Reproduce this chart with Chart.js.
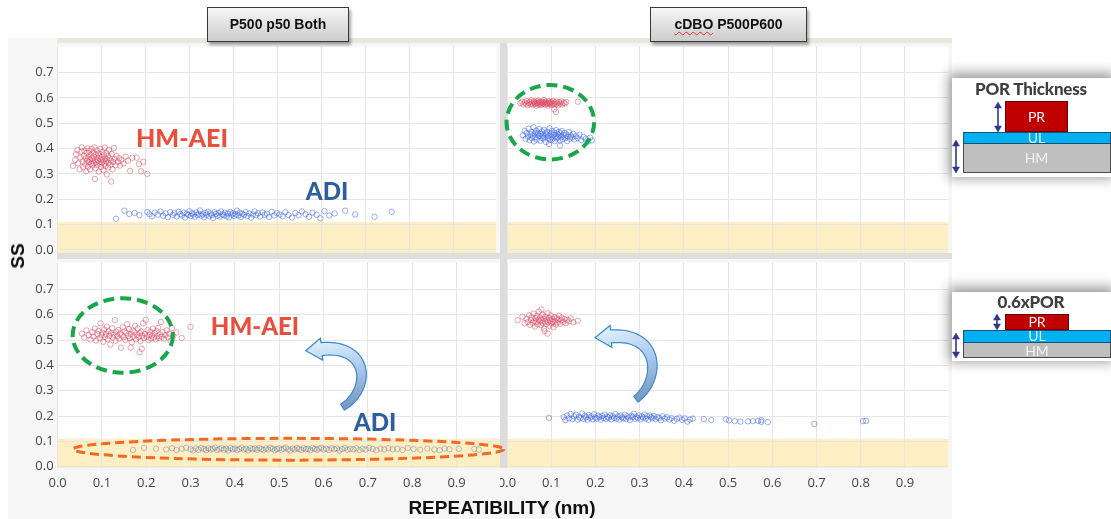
<!DOCTYPE html>
<html lang="en">
<head>
<meta charset="UTF-8">
<title>SS vs REPEATIBILITY</title>
<script src="https://cdn.jsdelivr.net/npm/chart.js"></script>
<style>
  body { margin: 0; background: #fff; width: 1111px; height: 519px; overflow: hidden; }
  .figura { position: relative; width: 1111px; height: 519px; }
  .figura > * { position: absolute; }
  .cabecalho {
    height: 35px; box-sizing: border-box; border: 1px solid #3a3a3a;
    background: linear-gradient(#f6f6f6, #cccccc);
    box-shadow: 2px 3px 3px rgba(0,0,0,0.35);
    font: bold 14px "Liberation Sans", sans-serif; color: #111;
    text-align: center; line-height: 33px;
  }
  .anot { font-family: Lato, sans-serif; font-weight: 900; line-height: 1; transform: translate(-50%, -50%); white-space: nowrap; }
  .vermelho { color: #e9503b; }
  .azul { color: #2d5f9f; }
  .eixo { font: bold 19px "Liberation Sans", sans-serif; color: #111; transform: translate(-50%, -50%); white-space: nowrap; }
  .esquema { background: #fff; width: 160px; box-shadow: 0 -2px 12px 3px rgba(0,0,0,0.4); }
  .esquema > * { position: absolute; }
  .esq-titulo { left: 0; width: 158px; text-align: center; font: 900 17px Lato, sans-serif; color: #3f3f3f; line-height: 17px; letter-spacing: -0.2px; }
  .camada { font: 14px Lato, sans-serif; text-align: center; box-sizing: border-box; }
  .pr { background: #c00000; border: 1px solid #6d0000; color: #fff; }
  .ul { background: #00b0f0; border: 1px solid #1d4f73; width: 148px; }
  .hm { background: #bfbfbf; border: 1px solid #4a4a4a; width: 148px; }
</style>
</head>
<body>
<div class="figura">
  <div style="left:8px;top:38px;width:944px;height:481px;background:#f6f6f6"></div>
  <div style="left:57px;top:38px;width:895px;height:5px;background:#e8e8e0"></div>
  <div style="left:500px;top:43px;width:7px;height:425px;background:#dcdcdc"></div>
  <div style="left:57px;top:253px;width:895px;height:6px;background:#dedede"></div>

  <canvas id="cTL" width="492" height="216" style="left:8px;top:43px"></canvas>
  <canvas id="cTR" width="452" height="216" style="left:500px;top:43px"></canvas>
  <canvas id="cBL" width="499" height="260" style="left:8px;top:259px"></canvas>
  <canvas id="cBR" width="452" height="260" style="left:500px;top:259px"></canvas>

  <div class="cabecalho" style="left:207px;top:7px;width:142px">P500 p50 Both</div>
  <div class="cabecalho" style="left:650px;top:7px;width:157px"><span style="text-decoration:underline wavy #e03030;text-decoration-thickness:1px;text-underline-offset:2px">cDBO</span> P500P600</div>

  <div class="anot vermelho" style="left:182px;top:137px;font-size:25px">HM-AEI</div>
  <div class="anot azul" style="left:327px;top:191px;font-size:24px">ADI</div>
  <div class="anot vermelho" style="left:255px;top:326px;font-size:24px">HM-AEI</div>
  <div class="anot azul" style="left:375px;top:422px;font-size:24px">ADI</div>

  <div class="eixo" style="left:502px;top:508px">REPEATIBILITY (nm)</div>
  <div class="eixo" style="left:18px;top:256px;transform:translate(-50%,-50%) rotate(-90deg)">SS</div>

  <div class="esquema" style="left:952px;top:78px;height:99px">
    <div class="esq-titulo" style="top:2px">POR Thickness</div>
    <div class="camada pr" style="left:53px;top:23px;width:63px;height:31px;line-height:29px">PR</div>
    <div class="camada hm" style="left:11px;top:65px;height:30px"></div>
    <div class="camada ul" style="left:11px;top:54px;height:12px"></div>
    <div class="camada" style="left:53px;top:53px;width:63px;line-height:14px;color:#dcf3ff">UL</div>
    <div class="camada" style="left:53px;top:72px;width:63px;line-height:16px;color:#f2f2f2">HM</div>
    <svg width="50" height="99" style="left:0;top:0">
      <g fill="#2f3590" stroke="#2f3590" stroke-width="1.6">
        <line x1="46" y1="29" x2="46" y2="49"/>
        <polygon points="46,24 42.5,30 49.5,30" stroke-width="0.5"/>
        <polygon points="46,54 42.5,48 49.5,48" stroke-width="0.5"/>
        <line x1="4" y1="67" x2="4" y2="90"/>
        <polygon points="4,62 0.5,68 7.5,68" stroke-width="0.5"/>
        <polygon points="4,95 0.5,89 7.5,89" stroke-width="0.5"/>
      </g>
    </svg>
  </div>

  <div class="esquema" style="left:952px;top:292px;height:69px">
    <div class="esq-titulo" style="top:1px">0.6xPOR</div>
    <div class="camada pr" style="left:53px;top:22px;width:64px;height:16px;line-height:14px">PR</div>
    <div class="camada hm" style="left:11px;top:50px;height:16px"></div>
    <div class="camada ul" style="left:11px;top:38px;height:13px"></div>
    <div class="camada" style="left:53px;top:37px;width:64px;line-height:14px;color:#dcf3ff">UL</div>
    <div class="camada" style="left:53px;top:51px;width:64px;line-height:15px;color:#f2f2f2">HM</div>
    <svg width="50" height="69" style="left:0;top:0">
      <g fill="#2f3590" stroke="#2f3590" stroke-width="1.6">
        <line x1="45" y1="26" x2="45" y2="34"/>
        <polygon points="45,22 41.5,28 48.5,28" stroke-width="0.5"/>
        <polygon points="45,38 41.5,32 48.5,32" stroke-width="0.5"/>
        <line x1="4" y1="45" x2="4" y2="62"/>
        <polygon points="4,41 0.5,47 7.5,47" stroke-width="0.5"/>
        <polygon points="4,66 0.5,60 7.5,60" stroke-width="0.5"/>
      </g>
    </svg>
  </div>
</div>

<script>
// eixos
var ssTicks = [0, 0.1, 0.2, 0.3, 0.4, 0.5, 0.6, 0.7];
var repTicks = [0, 0.1, 0.2, 0.3, 0.4, 0.5, 0.6, 0.7, 0.8, 0.9];
var faixaSS = [0, 0.11];

// P500 p50 Both - POR
var tlVermelho = [[0.035,0.332],[0.040,0.355],[0.042,0.378],[0.045,0.395],[0.047,0.342],[0.050,0.318],[0.052,0.365],[0.054,0.388],[0.055,0.405],[0.057,0.349],[0.058,0.327],[0.060,0.372],[0.061,0.392],[0.063,0.338],[0.064,0.361],[0.065,0.310],[0.066,0.384],[0.067,0.352],[0.068,0.401],[0.069,0.329],[0.070,0.367],[0.071,0.346],[0.072,0.390],[0.073,0.357],[0.074,0.318],[0.075,0.375],[0.076,0.340],[0.077,0.398],[0.078,0.362],[0.079,0.333],[0.080,0.350],[0.081,0.385],[0.082,0.369],[0.083,0.342],[0.084,0.405],[0.085,0.280],[0.085,0.356],[0.086,0.322],[0.087,0.378],[0.088,0.347],[0.089,0.393],[0.090,0.335],[0.091,0.364],[0.092,0.352],[0.093,0.381],[0.094,0.309],[0.095,0.372],[0.096,0.341],[0.097,0.399],[0.098,0.358],[0.099,0.328],[0.100,0.366],[0.101,0.345],[0.102,0.387],[0.103,0.353],[0.104,0.315],[0.105,0.376],[0.106,0.339],[0.107,0.404],[0.108,0.361],[0.109,0.331],[0.110,0.349],[0.111,0.383],[0.112,0.298],[0.113,0.357],[0.114,0.370],[0.115,0.325],[0.116,0.344],[0.117,0.395],[0.118,0.362],[0.120,0.336],[0.121,0.352],[0.122,0.270],[0.123,0.379],[0.125,0.318],[0.126,0.347],[0.128,0.402],[0.130,0.359],[0.132,0.334],[0.134,0.371],[0.137,0.348],[0.140,0.362],[0.142,0.333],[0.145,0.355],[0.150,0.341],[0.155,0.368],[0.160,0.352],[0.165,0.312],[0.170,0.364],[0.180,0.364],[0.185,0.339],[0.190,0.310],[0.195,0.348],[0.204,0.300]];
var tlAzul = [[0.133,0.123],[0.152,0.155],[0.163,0.142],[0.175,0.146],[0.186,0.137],[0.204,0.150],[0.209,0.141],[0.215,0.133],[0.221,0.147],[0.228,0.139],[0.234,0.152],[0.240,0.135],[0.246,0.144],[0.251,0.129],[0.256,0.149],[0.262,0.138],[0.266,0.145],[0.271,0.132],[0.275,0.151],[0.279,0.141],[0.283,0.136],[0.287,0.147],[0.290,0.128],[0.294,0.143],[0.297,0.138],[0.300,0.153],[0.303,0.134],[0.306,0.145],[0.309,0.140],[0.312,0.131],[0.315,0.148],[0.318,0.137],[0.321,0.143],[0.324,0.156],[0.327,0.135],[0.330,0.141],[0.333,0.129],[0.336,0.146],[0.339,0.139],[0.342,0.151],[0.345,0.133],[0.348,0.144],[0.351,0.138],[0.354,0.127],[0.357,0.149],[0.360,0.142],[0.363,0.135],[0.366,0.146],[0.369,0.131],[0.372,0.152],[0.375,0.140],[0.378,0.137],[0.381,0.147],[0.384,0.133],[0.387,0.143],[0.390,0.128],[0.393,0.150],[0.396,0.139],[0.399,0.145],[0.402,0.134],[0.405,0.141],[0.408,0.155],[0.411,0.136],[0.414,0.147],[0.417,0.130],[0.420,0.143],[0.424,0.138],[0.428,0.149],[0.432,0.134],[0.436,0.144],[0.440,0.127],[0.444,0.140],[0.448,0.152],[0.452,0.137],[0.456,0.145],[0.461,0.132],[0.466,0.148],[0.471,0.139],[0.476,0.143],[0.481,0.130],[0.487,0.151],[0.493,0.136],[0.499,0.145],[0.505,0.140],[0.512,0.133],[0.518,0.149],[0.525,0.138],[0.533,0.128],[0.541,0.146],[0.548,0.137],[0.556,0.152],[0.564,0.141],[0.572,0.131],[0.580,0.147],[0.589,0.139],[0.598,0.125],[0.607,0.153],[0.618,0.136],[0.630,0.144],[0.654,0.155],[0.677,0.140],[0.721,0.131],[0.760,0.151]];

// cDBO P500P600 - POR
var trVermelho = [[0.030,0.579],[0.034,0.585],[0.037,0.574],[0.040,0.582],[0.043,0.577],[0.045,0.588],[0.047,0.571],[0.049,0.580],[0.051,0.584],[0.053,0.575],[0.055,0.590],[0.057,0.578],[0.058,0.572],[0.060,0.583],[0.061,0.587],[0.063,0.576],[0.064,0.581],[0.066,0.569],[0.067,0.586],[0.068,0.579],[0.070,0.574],[0.071,0.589],[0.072,0.582],[0.074,0.577],[0.075,0.584],[0.076,0.571],[0.078,0.580],[0.079,0.586],[0.080,0.575],[0.082,0.583],[0.083,0.578],[0.084,0.591],[0.086,0.573],[0.087,0.581],[0.088,0.585],[0.090,0.576],[0.091,0.579],[0.093,0.570],[0.094,0.587],[0.095,0.582],[0.097,0.575],[0.098,0.580],[0.100,0.584],[0.101,0.572],[0.103,0.578],[0.104,0.588],[0.106,0.576],[0.107,0.555],[0.108,0.582],[0.110,0.574],[0.111,0.545],[0.112,0.585],[0.114,0.579],[0.116,0.571],[0.118,0.583],[0.120,0.577],[0.123,0.586],[0.125,0.574],[0.128,0.581],[0.131,0.578],[0.134,0.584],[0.160,0.585]];
var trAzul = [[0.036,0.452],[0.040,0.470],[0.042,0.438],[0.045,0.461],[0.047,0.447],[0.049,0.478],[0.051,0.433],[0.053,0.456],[0.055,0.466],[0.056,0.441],[0.058,0.452],[0.060,0.484],[0.061,0.428],[0.063,0.460],[0.064,0.445],[0.066,0.471],[0.067,0.436],[0.069,0.455],[0.070,0.463],[0.072,0.449],[0.073,0.477],[0.075,0.431],[0.076,0.458],[0.078,0.443],[0.079,0.468],[0.081,0.452],[0.082,0.439],[0.084,0.474],[0.085,0.447],[0.087,0.461],[0.088,0.426],[0.090,0.455],[0.091,0.467],[0.093,0.441],[0.094,0.450],[0.096,0.480],[0.097,0.434],[0.099,0.459],[0.100,0.446],[0.102,0.470],[0.103,0.438],[0.105,0.454],[0.106,0.463],[0.108,0.429],[0.109,0.448],[0.111,0.473],[0.112,0.440],[0.114,0.457],[0.115,0.444],[0.117,0.466],[0.118,0.451],[0.120,0.432],[0.121,0.460],[0.123,0.445],[0.124,0.469],[0.126,0.437],[0.128,0.453],[0.130,0.462],[0.132,0.442],[0.134,0.456],[0.136,0.430],[0.138,0.448],[0.140,0.465],[0.142,0.439],[0.144,0.452],[0.147,0.444],[0.150,0.458],[0.153,0.436],[0.156,0.449],[0.160,0.441],[0.164,0.455],[0.168,0.433],[0.173,0.446],[0.178,0.439],[0.183,0.428],[0.188,0.443],[0.192,0.432],[0.120,0.412],[0.095,0.418]];

// P500 p50 Both - 0.6xPOR
var blVermelho = [[0.055,0.525],[0.060,0.510],[0.065,0.538],[0.070,0.519],[0.074,0.502],[0.078,0.531],[0.081,0.514],[0.084,0.545],[0.087,0.498],[0.090,0.523],[0.092,0.536],[0.095,0.507],[0.097,0.566],[0.099,0.518],[0.101,0.529],[0.103,0.493],[0.105,0.541],[0.107,0.512],[0.109,0.524],[0.111,0.553],[0.113,0.503],[0.115,0.534],[0.117,0.517],[0.119,0.482],[0.121,0.527],[0.123,0.546],[0.125,0.509],[0.127,0.521],[0.129,0.579],[0.131,0.497],[0.133,0.532],[0.135,0.515],[0.137,0.540],[0.139,0.505],[0.141,0.526],[0.143,0.470],[0.145,0.519],[0.147,0.550],[0.149,0.511],[0.151,0.535],[0.153,0.500],[0.155,0.528],[0.157,0.562],[0.159,0.516],[0.161,0.543],[0.163,0.507],[0.165,0.523],[0.167,0.491],[0.169,0.537],[0.171,0.514],[0.173,0.530],[0.175,0.556],[0.177,0.502],[0.179,0.520],[0.181,0.545],[0.183,0.511],[0.185,0.527],[0.187,0.496],[0.189,0.533],[0.191,0.517],[0.193,0.566],[0.195,0.508],[0.197,0.524],[0.199,0.580],[0.201,0.512],[0.203,0.539],[0.205,0.499],[0.207,0.521],[0.209,0.532],[0.211,0.506],[0.213,0.518],[0.215,0.545],[0.217,0.510],[0.219,0.527],[0.221,0.503],[0.223,0.536],[0.225,0.515],[0.227,0.548],[0.229,0.508],[0.231,0.522],[0.233,0.571],[0.235,0.513],[0.237,0.531],[0.240,0.505],[0.243,0.519],[0.246,0.538],[0.249,0.511],[0.252,0.525],[0.255,0.497],[0.258,0.547],[0.261,0.516],[0.268,0.530],[0.280,0.508],[0.300,0.552],[0.185,0.452],[0.190,0.465],[0.165,0.470]];
var blAzul = [[0.170,0.066],[0.195,0.074],[0.222,0.071],[0.245,0.068],[0.258,0.073],[0.268,0.066],[0.280,0.071],[0.290,0.075],[0.300,0.069],[0.306,0.064],[0.312,0.072],[0.318,0.067],[0.324,0.074],[0.330,0.070],[0.335,0.065],[0.340,0.073],[0.345,0.068],[0.350,0.071],[0.355,0.076],[0.360,0.066],[0.365,0.070],[0.370,0.073],[0.375,0.067],[0.380,0.071],[0.385,0.064],[0.390,0.074],[0.395,0.069],[0.400,0.072],[0.405,0.066],[0.410,0.070],[0.415,0.075],[0.420,0.068],[0.425,0.071],[0.430,0.065],[0.435,0.073],[0.440,0.069],[0.445,0.072],[0.450,0.067],[0.455,0.074],[0.460,0.070],[0.465,0.066],[0.470,0.072],[0.475,0.068],[0.480,0.075],[0.485,0.071],[0.490,0.065],[0.495,0.070],[0.500,0.073],[0.505,0.067],[0.510,0.071],[0.515,0.076],[0.520,0.069],[0.525,0.064],[0.530,0.072],[0.535,0.068],[0.540,0.074],[0.545,0.070],[0.550,0.066],[0.555,0.073],[0.560,0.069],[0.565,0.071],[0.570,0.065],[0.575,0.074],[0.580,0.070],[0.585,0.067],[0.590,0.072],[0.595,0.075],[0.600,0.068],[0.606,0.071],[0.612,0.066],[0.618,0.073],[0.624,0.069],[0.630,0.072],[0.636,0.064],[0.642,0.070],[0.648,0.074],[0.654,0.067],[0.660,0.071],[0.667,0.069],[0.674,0.073],[0.681,0.066],[0.688,0.071],[0.695,0.068],[0.703,0.074],[0.711,0.070],[0.719,0.065],[0.728,0.072],[0.737,0.068],[0.746,0.073],[0.756,0.069],[0.766,0.071],[0.778,0.066],[0.790,0.074],[0.803,0.070],[0.818,0.067],[0.834,0.072],[0.850,0.068],[0.862,0.065],[0.873,0.072],[0.884,0.069],[0.905,0.071],[0.940,0.070],[0.950,0.068]];

// cDBO P500P600 - 0.6xPOR
var brVermelho = [[0.024,0.578],[0.035,0.592],[0.040,0.566],[0.044,0.584],[0.047,0.571],[0.050,0.598],[0.052,0.560],[0.054,0.580],[0.056,0.589],[0.058,0.568],[0.060,0.604],[0.062,0.575],[0.063,0.553],[0.065,0.586],[0.066,0.570],[0.068,0.595],[0.069,0.562],[0.071,0.580],[0.072,0.612],[0.074,0.573],[0.075,0.588],[0.077,0.558],[0.078,0.579],[0.080,0.600],[0.081,0.567],[0.083,0.584],[0.084,0.545],[0.086,0.574],[0.087,0.592],[0.089,0.563],[0.090,0.581],[0.092,0.606],[0.093,0.570],[0.095,0.587],[0.096,0.556],[0.098,0.577],[0.099,0.597],[0.101,0.565],[0.102,0.583],[0.104,0.572],[0.105,0.550],[0.107,0.590],[0.108,0.575],[0.110,0.561],[0.112,0.586],[0.114,0.569],[0.116,0.581],[0.118,0.596],[0.120,0.564],[0.122,0.578],[0.124,0.588],[0.127,0.571],[0.130,0.583],[0.133,0.566],[0.136,0.579],[0.140,0.574],[0.144,0.585],[0.150,0.570],[0.160,0.576],[0.092,0.525],[0.085,0.535],[0.078,0.620]];
var brAzul = [[0.095,0.193],[0.128,0.196],[0.132,0.184],[0.136,0.202],[0.140,0.191],[0.144,0.208],[0.148,0.188],[0.152,0.199],[0.156,0.205],[0.160,0.186],[0.163,0.197],[0.166,0.192],[0.170,0.210],[0.173,0.189],[0.176,0.201],[0.179,0.195],[0.182,0.185],[0.185,0.204],[0.188,0.193],[0.191,0.199],[0.194,0.187],[0.197,0.207],[0.200,0.194],[0.203,0.190],[0.206,0.202],[0.209,0.196],[0.212,0.185],[0.215,0.200],[0.218,0.192],[0.221,0.206],[0.224,0.189],[0.227,0.197],[0.230,0.194],[0.233,0.203],[0.236,0.187],[0.239,0.199],[0.242,0.193],[0.245,0.208],[0.248,0.190],[0.251,0.198],[0.254,0.186],[0.257,0.202],[0.260,0.195],[0.263,0.191],[0.266,0.205],[0.269,0.188],[0.272,0.199],[0.275,0.194],[0.278,0.184],[0.281,0.201],[0.284,0.196],[0.287,0.209],[0.290,0.189],[0.293,0.197],[0.296,0.192],[0.299,0.203],[0.302,0.187],[0.305,0.198],[0.308,0.194],[0.311,0.206],[0.314,0.190],[0.317,0.199],[0.320,0.185],[0.323,0.202],[0.326,0.195],[0.329,0.191],[0.332,0.200],[0.336,0.188],[0.340,0.196],[0.344,0.193],[0.348,0.183],[0.352,0.199],[0.357,0.190],[0.362,0.195],[0.367,0.186],[0.372,0.192],[0.378,0.181],[0.384,0.189],[0.390,0.194],[0.396,0.185],[0.402,0.191],[0.408,0.178],[0.414,0.186],[0.420,0.190],[0.445,0.188],[0.462,0.184],[0.495,0.187],[0.502,0.183],[0.515,0.180],[0.528,0.178],[0.545,0.179],[0.556,0.180],[0.568,0.181],[0.575,0.184],[0.575,0.177],[0.590,0.176],[0.695,0.169],[0.805,0.180],[0.812,0.181]];

var corVermelho = 'rgba(218, 70, 95, 0.5)';
var corAzul = 'rgba(52, 96, 230, 0.5)';
var corAziCinza = 'rgba(90, 105, 160, 0.4)';

var fonteTick = { family: '"Open Sans", sans-serif', size: 13 };

// fundo branco da area + faixa amarela
var fundo = {
  id: 'fundo',
  beforeDraw: function (chart) {
    var a = chart.chartArea, ctx = chart.ctx;
    var yt = chart.scales.y.getPixelForValue(faixaSS[1]);
    ctx.save();
    ctx.fillStyle = '#ffffff';
    ctx.fillRect(a.left, a.top, a.width, a.height);
    ctx.fillStyle = '#fdeec3';
    ctx.fillRect(a.left, yt, a.width, a.bottom - yt);
    ctx.restore();
  }
};

function desenharSeta(ctx, P, w0, w1, hw, hl) {
  function bez(t, k) { var u = 1 - t; return u*u*u*P[0][k] + 3*u*u*t*P[1][k] + 3*u*t*t*P[2][k] + t*t*t*P[3][k]; }
  function der(t, k) { var u = 1 - t; return 3*u*u*(P[1][k]-P[0][k]) + 6*u*t*(P[2][k]-P[1][k]) + 3*t*t*(P[3][k]-P[2][k]); }
  var esq = [], dir = [], n = 40, i;
  for (i = 0; i <= n; i++) {
    var t = i / n, x = bez(t, 0), y = bez(t, 1), dx = der(t, 0), dy = der(t, 1);
    var l = Math.hypot(dx, dy), nx = -dy / l, ny = dx / l, w = (w0 + (w1 - w0) * t) / 2;
    esq.push([x + nx * w, y + ny * w]);
    dir.push([x - nx * w, y - ny * w]);
  }
  var ex = der(1, 0), ey = der(1, 1), el = Math.hypot(ex, ey), ux = ex / el, uy = ey / el;
  var B = P[3];
  ctx.save();
  ctx.beginPath();
  esq.forEach(function (p, k) { if (k) ctx.lineTo(p[0], p[1]); else ctx.moveTo(p[0], p[1]); });
  ctx.lineTo(B[0] - uy * hw, B[1] + ux * hw);
  ctx.lineTo(B[0] + ux * hl, B[1] + uy * hl);
  ctx.lineTo(B[0] + uy * hw, B[1] - ux * hw);
  for (i = n; i >= 0; i--) ctx.lineTo(dir[i][0], dir[i][1]);
  ctx.closePath();
  var g = ctx.createLinearGradient(B[0], B[1] - 12, P[0][0] - 8, P[0][1]);
  g.addColorStop(0, '#e6f2fd');
  g.addColorStop(0.5, '#aacbee');
  g.addColorStop(1, '#7b9bc2');
  ctx.fillStyle = g;
  ctx.fill();
  ctx.strokeStyle = '#3b8ad0';
  ctx.lineWidth = 1.2;
  ctx.stroke();
  ctx.restore();
}

function decoracao(d) {
  return {
    id: 'deco',
    afterDraw: function (chart) {
      var ctx = chart.ctx, sx = chart.scales.x, sy = chart.scales.y;
      (d.elipses || []).forEach(function (e) {
        var cx = sx.getPixelForValue(e.cx), cy = sy.getPixelForValue(e.cy);
        var rx = Math.abs(sx.getPixelForValue(e.cx + e.rx) - cx);
        var ry = Math.abs(sy.getPixelForValue(e.cy + e.ry) - cy);
        ctx.save();
        ctx.beginPath();
        ctx.ellipse(cx, cy, rx, ry, 0, 0, 2 * Math.PI);
        ctx.setLineDash(e.traco);
        ctx.lineWidth = e.espessura;
        ctx.strokeStyle = e.cor;
        ctx.stroke();
        ctx.restore();
      });
      (d.setas || []).forEach(function (s) {
        var P = s.map(function (p) { return [sx.getPixelForValue(p[0]), sy.getPixelForValue(p[1])]; });
        desenharSeta(ctx, P, 7, 13, 11, 16);
      });
    }
  };
}

function criarPainel(id, conjuntos, cfg) {
  var ctx = document.getElementById(id).getContext('2d');
  return new Chart(ctx, {
    type: 'scatter',
    data: {
      datasets: conjuntos.map(function (c) {
        return {
          data: c.pontos.map(function (p) { return { x: p[0], y: p[1] }; }),
          borderColor: c.cor,
          backgroundColor: 'rgba(255,255,255,0)',
          pointRadius: 2.7,
          pointHoverRadius: 2.7,
          borderWidth: 1
        };
      })
    },
    options: {
      responsive: false,
      animation: false,
      events: [],
      layout: { padding: cfg.padding },
      plugins: { legend: { display: false }, tooltip: { enabled: false } },
      scales: {
        x: {
          type: 'linear', min: 0, max: 0.998,
          afterBuildTicks: function (s) { s.ticks = repTicks.map(function (v) { return { value: v }; }); },
          afterFit: function (s) { s.height = cfg.xAltura; s.paddingLeft = 0; s.paddingRight = 0; s.paddingTop = 0; s.paddingBottom = 0; },
          grid: { color: '#e6e6e6', drawTicks: false },
          border: { display: false },
          ticks: { display: cfg.xTicks, padding: 7, maxRotation: 0, autoSkip: false, font: fonteTick, color: '#454545',
                   callback: function (v) { return v.toFixed(1); } }
        },
        y: {
          type: 'linear', min: cfg.yMin, max: cfg.yMax,
          afterBuildTicks: function (s) { s.ticks = ssTicks.map(function (v) { return { value: v }; }); },
          afterFit: function (s) { s.width = cfg.yLargura; s.paddingLeft = 0; s.paddingRight = 0; s.paddingTop = 0; s.paddingBottom = 0; },
          grid: { color: '#e6e6e6', drawTicks: false },
          border: { display: false },
          ticks: { display: cfg.yTicks, padding: 4, font: fonteTick, color: '#454545',
                   callback: function (v) { return v.toFixed(1); } }
        }
      }
    },
    plugins: [fundo, decoracao(cfg.deco || {})]
  });
}

criarPainel('cTL', [{ pontos: tlVermelho, cor: corVermelho }, { pontos: tlAzul, cor: corAzul }], {
  padding: { top: 0, right: 0, bottom: 6, left: 0 }, xAltura: 0, yLargura: 49.6,
  xTicks: false, yTicks: true, yMin: -0.012, yMax: 0.802
});

criarPainel('cTR', [{ pontos: trVermelho, cor: corVermelho }, { pontos: trAzul, cor: corAzul }], {
  padding: { top: 0, right: 2, bottom: 6, left: 7 }, xAltura: 0, yLargura: 0,
  xTicks: false, yTicks: false, yMin: -0.012, yMax: 0.802,
  deco: { elipses: [{ cx: 0.098, cy: 0.504, rx: 0.099, ry: 0.147, cor: '#17a64a', espessura: 4, traco: [11, 6] }] }
});

criarPainel('cBL', [{ pontos: blVermelho, cor: corVermelho }, { pontos: blAzul, cor: corAziCinza }], {
  padding: { top: 0, right: 7, bottom: 0, left: 0 }, xAltura: 51, yLargura: 49.6,
  xTicks: true, yTicks: true, yMin: -0.005, yMax: 0.805,
  deco: {
    elipses: [
      { cx: 0.147, cy: 0.518, rx: 0.113, ry: 0.147, cor: '#17a64a', espessura: 4, traco: [11, 6] },
      { cx: 0.521, cy: 0.069, rx: 0.486, ry: 0.043, cor: '#f06a24', espessura: 3, traco: [9, 5] }
    ],
    setas: [[[0.6428, 0.2353], [0.7081, 0.3050], [0.7036, 0.4833], [0.5955, 0.4640]]]
  }
});

criarPainel('cBR', [{ pontos: brVermelho, cor: corVermelho }, { pontos: brAzul, cor: corAzul }], {
  padding: { top: 0, right: 2, bottom: 0, left: 7 }, xAltura: 51, yLargura: 0,
  xTicks: true, yTicks: false, yMin: -0.005, yMax: 0.805,
  deco: { setas: [[[0.2914, 0.2663], [0.3500, 0.3438], [0.3455, 0.5298], [0.2351, 0.5143]]] }
});
</script>
</body>
</html>
